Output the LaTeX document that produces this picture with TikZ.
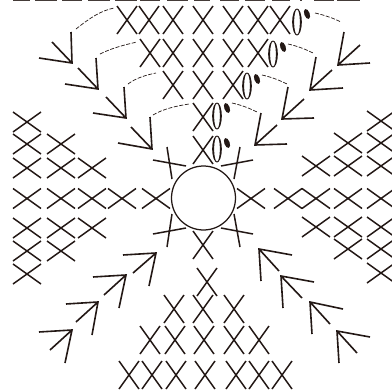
\documentclass[tikz,border=0pt]{standalone}
\definecolor{ink}{RGB}{35,24,21}
\tikzset{
  stitch/.style={draw=ink,line width=1.5pt},
  arrowv/.style={draw=ink,line width=1.6pt,line join=miter},
  thread/.style={draw=ink,line width=0.7pt,dash pattern=on 4pt off 1.6pt},
  ringline/.style={draw=ink,line width=1.25pt},
  edgebar/.style={draw=none,fill=ink!85}
}
% tall X, wide X
\newcommand{\tallx}[2]{\draw[stitch] (#1-10,#2-14) -- (#1+10,#2+14) (#1+10,#2-14) -- (#1-10,#2+14);}
\newcommand{\widex}[2]{\draw[stitch] (#1-14,#2-10) -- (#1+14,#2+10) (#1+14,#2-10) -- (#1-14,#2+10);}
\newcommand{\zeroloop}[2]{\fill[ink,even odd rule] (#1,#2) ellipse [x radius=4.8pt,y radius=13.5pt] (#1,#2) ellipse [x radius=2.9pt,y radius=12.6pt];}
\newcommand{\seed}[2]{\fill[ink,rotate around={20:(#1,#2)}] (#1,#2) ellipse [x radius=2.7pt,y radius=5.2pt];}
\begin{document}
\begin{tikzpicture}[x=1pt,y=-1pt]
\useasboundingbox (0,0) rectangle (392,391);
\fill[white] (0,0) rectangle (392,391);
% top edge
\foreach \a/\b in {13/30,35/57,62/82,88/110,115/137,140/160,167/188,194/210,220/239,245/265,272/290,300/302,314/334,337/360}
  \fill[edgebar] (\a,0) rectangle (\b,1.2);
% top block
\foreach \x in {127,149,173,203,233,258,280} {\tallx{\x}{20}}
\foreach \x in {150,173,203,233,258} {\tallx{\x}{53}}
\foreach \x in {173,203,233} {\tallx{\x}{85}}
\tallx{203}{117}
\tallx{203}{150}
\zeroloop{297}{22}\seed{307}{14}
\zeroloop{273}{54}\seed{283}{47}
\zeroloop{247}{86}\seed{257}{79}
\zeroloop{217}{116}\seed{227}{108}
\zeroloop{217}{149}\seed{227}{143}
% left block
\widex{27}{122}
\foreach \x in {27,61} {\widex{\x}{144}}
\foreach \x in {27,61,92} {\widex{\x}{168}}
\foreach \x in {27,61,92,122,156} {\widex{\x}{198.5}}
\foreach \x in {27,61,92} {\widex{\x}{228}}
\foreach \x in {27,61} {\widex{\x}{251}}
\widex{27}{274}
% right block
\widex{381}{121}
\foreach \x in {348,381} {\widex{\x}{143}}
\foreach \x in {316,348,381} {\widex{\x}{166}}
\foreach \x in {251,288,316,348,381} {\widex{\x}{198.5}}
\foreach \x in {316,348,381} {\widex{\x}{227}}
\foreach \x in {348,381} {\widex{\x}{249}}
\widex{381}{273}
% bottom block
\tallx{203}{245}
\tallx{207}{282}
\foreach \x in {174,203,234} {\tallx{\x}{309}}
\foreach \x in {150,175,204,234,259} {\tallx{\x}{340}}
\foreach \x in {129,152,176,205,236,259,282} {\tallx{\x}{375}}
% ring
\draw[ringline] (203.5,198) ellipse [x radius=32pt,y radius=32pt];
% crosses round the ring
\draw[stitch] (167,147) -- (172,179) (153,160) -- (186,166);
\draw[stitch] (240,147) -- (234,179) (221,166) -- (253,160);
\draw[stitch] (172,214) -- (167,247) (153,234) -- (186,228);
\draw[stitch] (234,214) -- (240,247) (221,228) -- (253,234);
% arrows: tip / three ends
\foreach \tx/\ty/\ax/\ay/\bx/\by/\cx/\cy in {
 72/63/71/32/52/42/39/58, 98/89/96/58/78/68/65/84, 126/118/124/87/106/97/93/113, 152/149/150/117/131/127/118/143,
 338/65/344/32/360/45/370/63, 310/90/316/57/332/70/343/88, 282/119/288/87/304/99/314/118, 255/145/261/113/277/125/287/144,
 156/253/123/255/133/273/149/286, 126/275/93/277/104/295/119/308, 98/302/66/304/76/322/92/335, 72/330/39/332/50/350/65/363,
 259/249/292/255/279/271/261/281, 281/276/314/282/302/298/283/308, 310/302/343/309/330/324/312/334, 337/331/370/337/357/353/339/363}
 {\draw[arrowv] (\ax,\ay) -- (\tx,\ty) -- (\cx,\cy) (\bx,\by) -- (\tx,\ty);}
% threads
\draw[thread] (76,29) .. controls (90,18) and (100,11) .. (114,8);
\draw[thread] (100,54) .. controls (112,48) and (124,45) .. (137,42);
\draw[thread] (128,84) .. controls (136,78) and (146,75) .. (156,73);
\draw[thread] (153,115) .. controls (163,109) and (176,106) .. (189,104);
\draw[thread] (315,13) .. controls (324,15) and (333,18) .. (341,22);
\draw[thread] (288,44) .. controls (297,46) and (305,49) .. (313,53);
\draw[thread] (262,75) .. controls (271,77) and (279,80) .. (287,84);
\draw[thread] (232,103) .. controls (241,105) and (249,108) .. (257,112);
\end{tikzpicture}
\end{document}
